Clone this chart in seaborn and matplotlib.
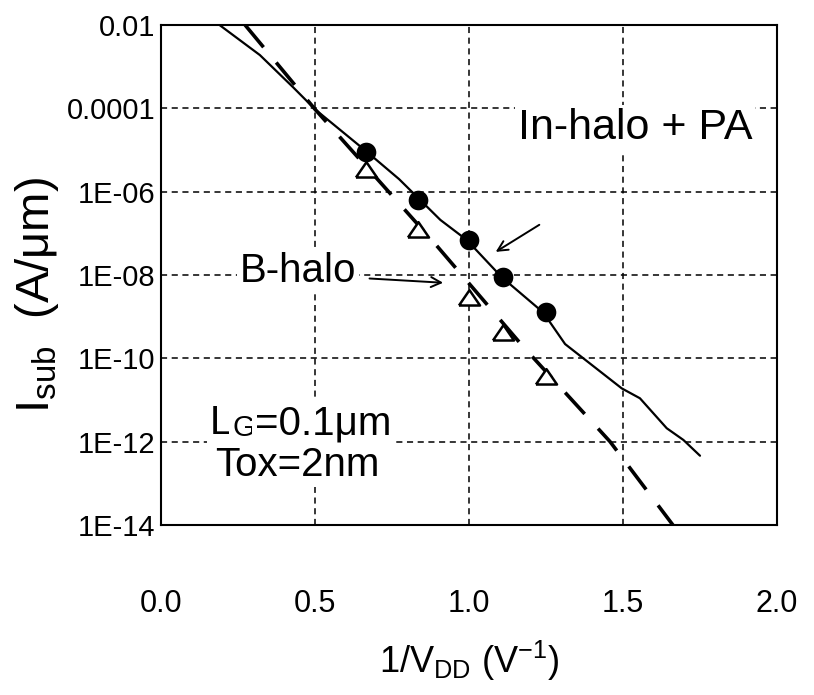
import numpy as np
import pandas as pd
import matplotlib
matplotlib.use("Agg")
import matplotlib.pyplot as plt
import seaborn as sns

# ---- data ----
inv_vdd = [0.667, 0.833, 1.0, 1.111, 1.25]
isub_in_pa = [9.1e-6, 6.3e-7, 6.9e-8, 8.9e-9, 1.26e-9]
isub_b_halo = [3.3e-6, 1.2e-7, 2.75e-9, 4.0e-10, 3.6e-11]

fit_in_x = [0.19, 0.321, 0.429, 0.50, 0.668, 0.773, 0.907, 0.993, 1.106,
            1.241, 1.312, 1.496, 1.555, 1.642, 1.696, 1.75]
fit_in_y = [1.0e-2, 1.9e-3, 3.2e-4, 9.5e-5, 9.1e-6, 2.0e-6, 2.1e-7, 6.9e-8,
            8.9e-9, 1.26e-9, 2.2e-10, 1.9e-11, 1.1e-11, 2.1e-12, 1.1e-12, 4.6e-13]

fit_b_x = [0.273, 0.50, 0.884, 1.176, 1.458, 1.662]
fit_b_y = [1.0e-2, 9.5e-5, 6.3e-8, 1.9e-10, 1.0e-12, 1.0e-14]

x_ticks = [0.0, 0.5, 1.0, 1.5, 2.0]
x_tick_labels = ["0.0", "0.5", "1.0", "1.5", "2.0"]
y_ticks = [1e-2, 1e-4, 1e-6, 1e-8, 1e-10, 1e-12, 1e-14]
y_tick_labels = ["0.01", "0.0001", "1E-06", "1E-08", "1E-10", "1E-12", "1E-14"]

# ---- style ----
sns.set_style("white")
plt.rcParams["font.family"] = ["Liberation Sans", "DejaVu Sans"]
plt.rcParams["mathtext.fontset"] = "custom"
plt.rcParams["mathtext.rm"] = "Liberation Sans"
plt.rcParams["mathtext.it"] = "Liberation Sans:italic"
plt.rcParams["mathtext.bf"] = "Liberation Sans:bold"
for k in ["text.color", "axes.labelcolor", "xtick.color", "ytick.color"]:
    plt.rcParams[k] = "black"

fig = plt.figure(figsize=(8.14, 6.95), dpi=100)
ax = fig.add_axes([161/814, 1-525/695, (777-161)/814, (525-25)/695])

df_pts_in = pd.DataFrame({"x": inv_vdd, "y": isub_in_pa})
df_pts_b = pd.DataFrame({"x": inv_vdd, "y": isub_b_halo})
df_fit_in = pd.DataFrame({"x": fit_in_x, "y": fit_in_y})
df_fit_b = pd.DataFrame({"x": fit_b_x, "y": fit_b_y})

ax.set_yscale("log")

sns.lineplot(data=df_fit_in, x="x", y="y", ax=ax, sort=False, estimator=None,
             color="black", linewidth=1.6, zorder=4)
sns.lineplot(data=df_fit_b, x="x", y="y", ax=ax, sort=False, estimator=None,
             color="black", linewidth=2.6, dashes=False, zorder=4)
ax.lines[-1].set_dashes([8, 5.5])

tri = [(-1.2, -0.8), (1.2, -0.8), (0.0, 0.95), (-1.2, -0.8)]
sns.scatterplot(data=df_pts_in, x="x", y="y", ax=ax, marker="o", s=200,
                color="black", edgecolor="black", linewidth=0, zorder=5)
sns.scatterplot(data=df_pts_b, x="x", y="y", ax=ax, marker=tri, s=230,
                facecolor="white", edgecolor="black", linewidth=1.8, zorder=5)

ax.set_xlim(0, 2.0)
ax.set_ylim(1e-14, 1e-2)
ax.set_xticks(x_ticks)
ax.set_xticklabels(x_tick_labels, fontsize=22)
ax.set_yticks(y_ticks)
ax.set_yticklabels(y_tick_labels, fontsize=21)
ax.yaxis.set_minor_locator(matplotlib.ticker.NullLocator())
ax.tick_params(axis="x", direction="in", length=6, width=1.2, pad=46)
ax.tick_params(axis="y", length=0, pad=4)

ax.grid(True, which="major", color="black", linestyle=(0, (4, 3)), linewidth=1.1)
ax.set_axisbelow(True)
for sp in ax.spines.values():
    sp.set_color("black")
    sp.set_linewidth(1.5)

ax.set_xlabel(r"1/V$_{\mathrm{DD}}$ (V$^{\mathrm{-1}}$)", fontsize=26, labelpad=14)
ax.set_ylabel(r"I$_{\mathrm{sub}}$  (A/μm)", fontsize=34)
ax.yaxis.set_label_coords(-0.163, 0.46)

box = dict(facecolor="white", edgecolor="none", pad=2)
ax.text(1.159, 10**-4.47, "In-halo + PA", fontsize=31, ha="left", va="center",
        bbox=box, zorder=3)
ax.text(0.256, 10**-7.90, "B-halo", fontsize=29, ha="left", va="center",
        bbox=box, zorder=3)

tL = ax.text(0.159, 10**-11.82, "L", fontsize=29, ha="left", va="baseline",
             bbox=box, zorder=3)
tG = ax.annotate("G", xy=(1, 0), xycoords=tL, fontsize=21, ha="left", va="bottom",
                 bbox=box, zorder=3)
ax.annotate("=0.1μm", xy=(1, 0), xycoords=tG, fontsize=29, ha="left", va="bottom",
            bbox=box, zorder=3)
ax.text(0.175, 10**-12.82, "Tox=2nm", fontsize=29, ha="left", va="baseline",
        bbox=box, zorder=3)

arrow = dict(arrowstyle="->", color="black", lw=1.4, mutation_scale=18)
ax.annotate("", xy=(1.079, 10**-7.48), xytext=(1.236, 10**-6.76), arrowprops=arrow, zorder=6)
ax.annotate("", xy=(0.925, 10**-8.19), xytext=(0.668, 10**-8.08), arrowprops=arrow, zorder=6)

fig.savefig("out.png", dpi=100, facecolor="white")
